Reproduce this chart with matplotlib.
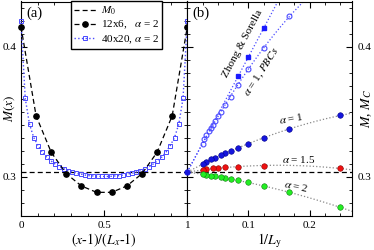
import numpy as np
import matplotlib
matplotlib.use('Agg')
import matplotlib.pyplot as plt
from matplotlib import rcParams
from matplotlib.ticker import MultipleLocator

rcParams['font.family'] = 'Liberation Serif'
rcParams['mathtext.fontset'] = 'stix'
rcParams['font.size'] = 8
rcParams['axes.linewidth'] = 0.8

# ---- panel (a): M(x) along the ladder ----
M0 = 0.3038
m_12x6 = [0.4155, 0.347, 0.319, 0.3025, 0.2931, 0.2882,
          0.2882, 0.2931, 0.3025, 0.319, 0.347, 0.4155]
half_40x20 = [0.420, 0.3605, 0.3406, 0.3303, 0.3242, 0.3191, 0.3153, 0.3125,
              0.3100, 0.3079, 0.3064, 0.3048, 0.3038, 0.3028, 0.3023, 0.3015,
              0.3010, 0.3008, 0.3005, 0.3004]
m_40x20 = half_40x20 + half_40x20[::-1]
x_12 = np.arange(12) / 11
x_40 = np.arange(40) / 39

# ---- panel (b): finite-size scaling vs 1/Ly ----
inv_a1 = [0.25, 1/6, 1/8, 1/10, 1/12, 1/14, 1/16, 1/18, 1/22, 1/26, 1/32, 1/40]
m_a1 = [0.3475, 0.3367, 0.3298, 0.3255, 0.3224, 0.3201, 0.3181, 0.3168,
        0.3148, 0.3135, 0.3117, 0.30995]
inv_a15 = [0.25, 1/8, 1/12, 1/16, 1/20, 1/24, 1/32, 1/40]
m_a15 = [0.3066, 0.3087, 0.3079, 0.3074, 0.3069, 0.3066, 0.3058, 0.3053]
inv_a2 = inv_a1
m_a2 = [0.2767, 0.2882, 0.2931, 0.2959, 0.2974, 0.2985, 0.2992, 0.2997,
        0.3005, 0.3010, 0.3015, 0.3020]
inv_pbc = [1/6, 1/8, 1/10, 1/12, 1/14, 1/16, 1/18, 1/20, 1/22, 1/24, 1/26,
           1/28, 1/32, 1/36, 1/40]
m_pbc = [0.4237, 0.3992, 0.3827, 0.3707, 0.3617, 0.3556, 0.3502, 0.3469,
         0.3433, 0.3400, 0.3375, 0.3355, 0.3320, 0.3290, 0.3255]
inv_zs = [1/8, 1/10, 1/12]
m_zs = [0.4146, 0.3923, 0.3776]


def fit(xs, ys, deg):
    # fit y = M0 + a x (+ b x^2), curve pinned at the 2D limit
    xs = np.asarray(xs)
    A = np.column_stack([xs**k for k in range(1, deg + 1)])
    c, *_ = np.linalg.lstsq(A, np.asarray(ys) - M0, rcond=None)
    xf = np.linspace(0, 0.27, 200)
    return xf, M0 + sum(c[k - 1] * xf**k for k in range(1, deg + 1))


fig = plt.figure(figsize=(3.74, 2.5), dpi=100)
axa = fig.add_axes([0.0561, 0.136, 0.4447, 0.858])
axb = fig.add_axes([0.5008, 0.136, 0.4412, 0.858])

for ax in (axa, axb):
    ax.set_ylim(0.27, 0.435)
    ax.yaxis.set_major_locator(MultipleLocator(0.1))
    ax.yaxis.set_minor_locator(MultipleLocator(0.01))
    ax.tick_params(which='both', direction='in', top=True, right=True, labelsize=8)
    ax.tick_params(which='major', length=4, width=0.8)
    ax.tick_params(which='minor', length=2, width=0.6)
    ax.axhline(M0, color='k', ls='--', lw=0.9, dashes=(4, 2.5))

# panel a
axa.plot(x_40, m_40x20, ':', color='#4a4aff', lw=1.0, marker='s', ms=3.3,
         mfc='none', mec='#4a4aff', mew=0.7, clip_on=False, zorder=3,
         label=r'40x20, $\alpha$ = 2')
axa.plot(x_12, m_12x6, '--', color='k', lw=0.9, dashes=(4, 2.5), marker='o',
         ms=3.8, clip_on=False, zorder=4, label=r'12x6,   $\alpha$ = 2')
axa.plot([], [], '--', color='k', lw=0.9, dashes=(4, 2.5), label=r'$M_0$')
h, l = axa.get_legend_handles_labels()
axa.legend([h[2], h[1], h[0]], [l[2], l[1], l[0]], loc='upper left',
           bbox_to_anchor=(0.30, 1.0), fontsize=8, fancybox=False,
           edgecolor='k', framealpha=1, borderaxespad=0, handlelength=2.0,
           handletextpad=0.4, labelspacing=0.15, borderpad=0.3)
axa.set_xlim(0, 1)
axa.xaxis.set_minor_locator(MultipleLocator(0.1))
axa.set_xticks([0, 0.5, 1])
axa.set_xticklabels(['0', '0.5', '1'])
axa.set_xlabel(r'$(x$-$1)/(L_x$-$1)$', fontsize=10, labelpad=1)
axa.set_ylabel(r'$M(x)$', fontsize=9.5)
axa.yaxis.set_label_coords(-0.026, 0.5)
axa.text(0.03, 0.975, '(a)', transform=axa.transAxes, fontsize=10.5, va='top')

# panel b
xf, yf = fit(inv_zs, m_zs, 1)
axb.plot(xf, yf, ':', color='#4a4aff', lw=0.9)
xf, yf = fit(inv_pbc, m_pbc, 2)
axb.plot(xf, yf, ':', color='#4a4aff', lw=0.9)
for xs, ys in ((inv_a1, m_a1), (inv_a15, m_a15), (inv_a2, m_a2)):
    xf, yf = fit(xs, ys, 2)
    axb.plot(xf, yf, ':', color='#888888', lw=0.9)

axb.plot(inv_zs, m_zs, 's', color='#1a1aff', ms=3.3, zorder=4)
axb.plot(inv_pbc, m_pbc, 'o', mfc='none', mec='#4a4aff', mew=0.8, ms=3.5, zorder=4)
axb.plot(inv_a1, m_a1, 'o', color='#1515dd', mec='#000088', mew=0.4, ms=4, zorder=4)
axb.plot(inv_a15, m_a15, 'o', color='#ee1111', mec='#880000', mew=0.4, ms=4, zorder=4)
axb.plot(inv_a2, m_a2, 'o', color='#22ee22', mec='#117711', mew=0.4, ms=4, zorder=4)
axb.plot([0], [M0], 'o', color='#1515dd', ms=3.5, clip_on=False, zorder=5)

axb.set_xlim(0, 0.27)
axb.xaxis.set_minor_locator(MultipleLocator(0.025))
axb.set_xticks([0.1, 0.2])
axb.set_xticklabels(['0.1', '0.2'])
axb.tick_params(axis='y', labelleft=False, labelright=True)
axb.yaxis.set_label_position('right')
axb.set_ylabel(r'$M$, $M_C$', fontsize=10)
axb.yaxis.set_label_coords(1.045, 0.5)
axb.set_xlabel(r'$1/L_\mathrm{y}$', fontsize=10, labelpad=1)
axb.text(0.03, 0.975, '(b)', transform=axb.transAxes, fontsize=10.5, va='top')

axb.text(0.0913, 0.4028, 'Zhong & Sorella', rotation=62, fontsize=8,
         ha='center', va='center')
axb.text(0.123, 0.3806, r'$\alpha$ = 1, $PBCs$', rotation=57, fontsize=8,
         ha='center', va='center')
axb.text(0.171, 0.3447, r'$\alpha$ = 1', rotation=10, fontsize=8,
         ha='center', va='center')
axb.text(0.182, 0.3132, r'$\alpha$ = 1.5', fontsize=8, ha='center', va='center')
axb.text(0.179, 0.2928, r'$\alpha$ = 2', rotation=-12, fontsize=8,
         ha='center', va='center')

plt.savefig('out.png', dpi=100)
